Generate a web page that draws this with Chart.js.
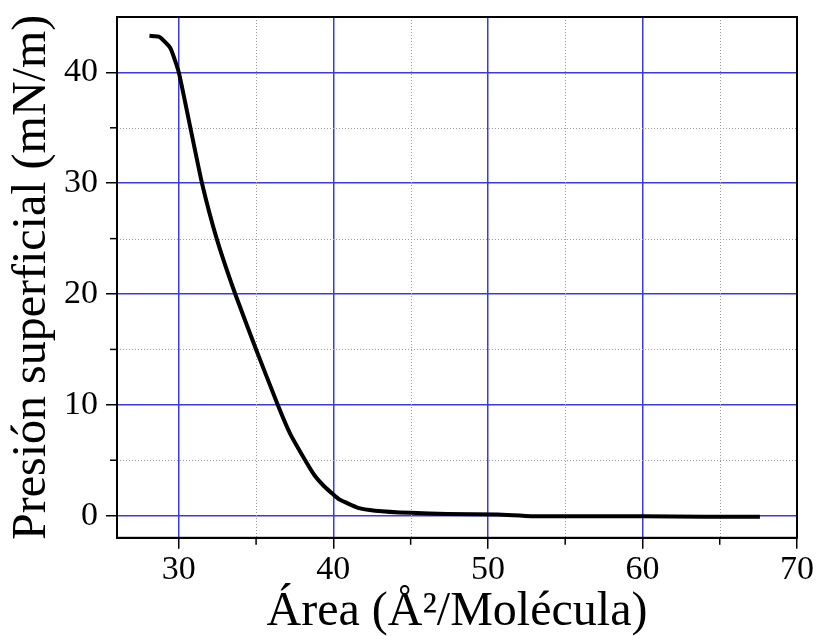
<!DOCTYPE html>
<html>
<head>
<meta charset="utf-8">
<script src="https://cdn.jsdelivr.net/npm/chart.js@4/dist/chart.umd.min.js"></script>
<style>
  html, body { margin: 0; padding: 0; background: #fff; }
  #wrap { width: 818px; height: 636px; }
</style>
</head>
<body>
<div id="wrap"><canvas id="chart"></canvas></div>
<script>
// isotherm: area (Å²/molecule) vs surface pressure (mN/m)
const area = [28.1, 28.75, 29.45, 30.0, 30.75, 31.5, 32.45, 33.65, 35.0, 36.4, 37.2, 38.3, 38.8, 39.4, 40.0, 40.4, 41.6, 42.7, 45.0, 47.4, 50.6, 52.8, 56.0, 60.0, 64.0, 67.6];
const pressure = [43.3, 43.2, 42.2, 40.0, 35.0, 30.0, 25.0, 20.0, 15.0, 10.0, 7.4, 4.7, 3.6, 2.65, 1.9, 1.45, 0.7, 0.45, 0.25, 0.15, 0.1, -0.05, -0.05, -0.05, -0.1, -0.1];

const xMajor = [30, 40, 50, 60, 70];
const xMinor = [35, 45, 55, 65];
const yMajor = [0, 10, 20, 30, 40];
const yMinor = [5, 15, 25, 35];

const serif = 'Liberation Serif';
const blue = '#3a3ae0';
const grey = '#9a9a9a';

// dotted minor grid + short minor ticks, placed through the scales
const minorGrid = {
    id: 'minorGrid',
    beforeDatasetsDraw(chart) {
        const a = chart.chartArea;
        const c = chart.ctx;
        const xs = chart.scales.x;
        const ys = chart.scales.y;
        c.save();
        c.lineWidth = 1;
        c.strokeStyle = grey;
        c.setLineDash([1, 2]);
        xMinor.forEach(function (v) {
            const px = Math.round(xs.getPixelForValue(v)) + 0.5;
            c.beginPath();
            c.moveTo(px, a.top);
            c.lineTo(px, a.bottom);
            c.stroke();
        });
        yMinor.forEach(function (v) {
            const py = Math.round(ys.getPixelForValue(v)) + 0.5;
            c.beginPath();
            c.moveTo(a.left, py);
            c.lineTo(a.right, py);
            c.stroke();
        });
        c.setLineDash([]);
        c.strokeStyle = '#000';
        c.lineWidth = 1.5;
        xMinor.forEach(function (v) {
            const px = xs.getPixelForValue(v);
            c.beginPath();
            c.moveTo(px, a.bottom);
            c.lineTo(px, a.bottom + 7);
            c.stroke();
        });
        yMinor.forEach(function (v) {
            const py = ys.getPixelForValue(v);
            c.beginPath();
            c.moveTo(a.left, py);
            c.lineTo(a.left - 7, py);
            c.stroke();
        });
        c.restore();
    },
    afterDraw(chart) {
        const a = chart.chartArea;
        const c = chart.ctx;
        c.save();
        c.strokeStyle = '#000';
        c.lineWidth = 2;
        c.strokeRect(a.left, a.top, a.right - a.left, a.bottom - a.top);
        c.restore();
    }
};

function axisOpts(ticks, min, max, title, tickPad, labelLH, titleLH) {
    return {
        type: 'linear',
        min: min,
        max: max,
        afterBuildTicks: function (axis) {
            axis.ticks = ticks.map(function (v) { return { value: v }; });
        },
        ticks: {
            color: '#000',
            padding: tickPad,
            autoSkip: false,
            maxRotation: 0,
            font: { family: serif, size: 34, lineHeight: labelLH }
        },
        grid: {
            color: blue,
            lineWidth: 1.5,
            tickLength: 11,
            tickColor: '#000',
            tickWidth: 1.5
        },
        border: { color: '#000', width: 2 },
        title: {
            display: true,
            text: title,
            color: '#000',
            font: { family: serif, size: 48, lineHeight: titleLH },
            padding: { top: 0, bottom: 0 }
        }
    };
}

new Chart(document.getElementById('chart'), {
    type: 'scatter',
    data: {
        datasets: [{
            data: area.map(function (x, i) { return { x: x, y: pressure[i] }; }),
            showLine: true,
            borderColor: '#000',
            borderWidth: 4,
            pointRadius: 0,
            tension: 0.15,
            fill: false
        }]
    },
    options: {
        responsive: true,
        maintainAspectRatio: false,
        animation: false,
        layout: { padding: { top: 17, right: 20, left: 8, bottom: 2 } },
        scales: {
            x: axisOpts(xMajor, 26, 70, 'Área (Å²/Molécula)', 4, 1, 0.9),
            y: axisOpts(yMajor, -2, 45, 'Presión superficial (mN/m)', 8, 0.5, 1)
        },
        plugins: {
            legend: { display: false },
            tooltip: { enabled: false }
        }
    },
    plugins: [minorGrid]
});
</script>
</body>
</html>
